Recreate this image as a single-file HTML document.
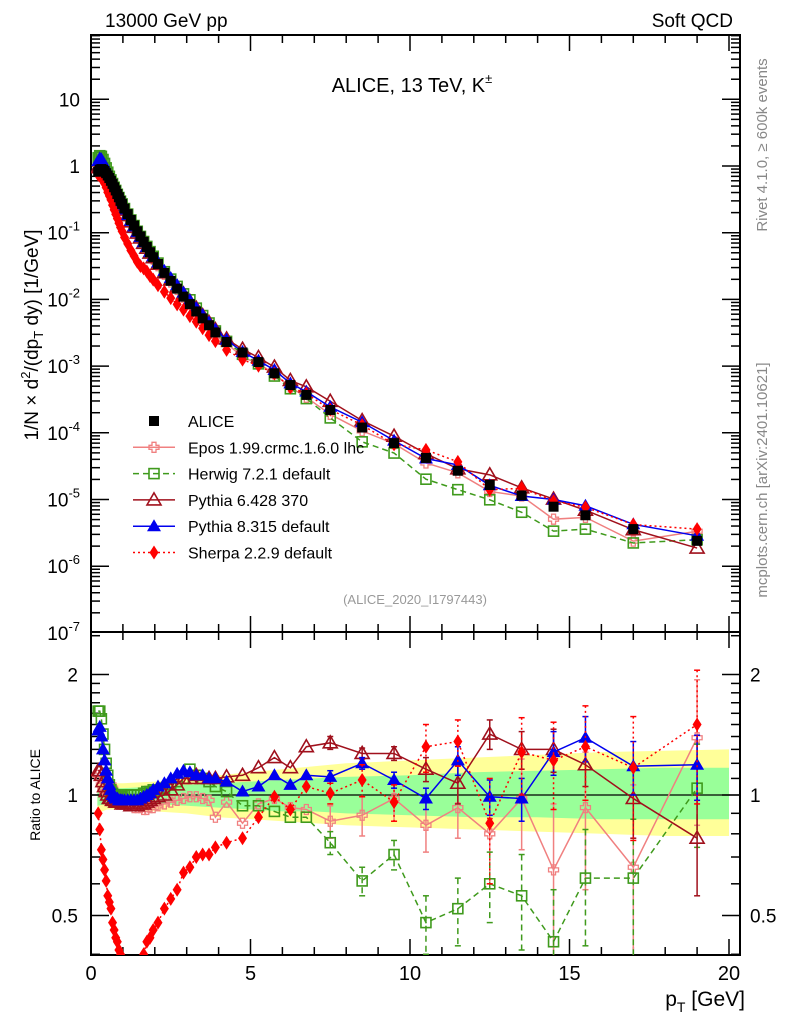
<!DOCTYPE html>
<html><head><meta charset="utf-8"><style>
body{margin:0;background:#fff}
svg{display:block;font-family:"Liberation Sans",sans-serif}
</style></head><body>
<svg id="c" width="786" height="1024" viewBox="0 0 786 1024" xmlns="http://www.w3.org/2000/svg">
<defs>
<clipPath id="cu"><rect x="91" y="35" width="649" height="597"/></clipPath>
<clipPath id="cl"><rect x="91" y="632" width="649" height="323"/></clipPath>
</defs>
<rect x="91" y="35" width="649" height="597" fill="none" stroke="#000" stroke-width="2"/>
<rect x="91" y="632" width="649" height="323" fill="none" stroke="#000" stroke-width="2"/>
<g id="bands" clip-path="url(#cl)"></g>
<g id="axes"></g>
<g id="upper" clip-path="url(#cu)"></g>
<g id="lower" clip-path="url(#cl)"></g>
<text x="105" y="27" font-size="19">13000 GeV pp</text>
<text x="733" y="27" font-size="19" text-anchor="end">Soft QCD</text>
<text x="412" y="92" font-size="20" text-anchor="middle">ALICE, 13 TeV, K<tspan font-size="13" dy="-9">±</tspan></text>
<text x="415" y="604" font-size="13" fill="#999" text-anchor="middle">(ALICE_2020_I1797443)</text>
<text transform="translate(38,335) rotate(-90)" font-size="19" text-anchor="middle">1/N × d<tspan font-size="13" dy="-8">2</tspan><tspan dy="8">/(dp</tspan><tspan font-size="13" dy="5">T</tspan><tspan dy="-5"> dy) [1/GeV]</tspan></text>
<text transform="translate(40,795) rotate(-90)" font-size="14" text-anchor="middle">Ratio to ALICE</text>
<text transform="translate(767,145) rotate(-90)" font-size="15" fill="#888" text-anchor="middle">Rivet 4.1.0, ≥ 600k events</text>
<text transform="translate(767,480) rotate(-90)" font-size="15" fill="#888" text-anchor="middle">mcplots.cern.ch [arXiv:2401.10621]</text>
<text x="745" y="1006" font-size="21" text-anchor="end">p<tspan font-size="14" dy="6">T</tspan><tspan dy="-6"> [GeV]</tspan></text>
<g id="legend"></g>
</svg>
<script>
const pT=[0.225,0.275,0.325,0.375,0.425,0.475,0.525,0.575,0.625,0.675,0.725,0.775,0.825,0.875,0.925,0.975,
1.05,1.15,1.25,1.35,1.45,1.55,1.65,1.75,1.85,1.95,
2.1,2.3,2.5,2.7,2.9,3.1,3.3,3.5,3.7,3.9,
4.25,4.75,5.25,5.75,6.25,6.75,
7.5,8.5,9.5,10.5,11.5,12.5,13.5,14.5,15.5,17,19];
const alice=[0.82,0.88,0.9,0.88,0.84,0.78,0.72,0.66,0.6,0.54,0.48,0.43,0.38,0.34,0.3,0.27,
0.23,0.19,0.155,0.128,0.105,0.088,0.073,0.061,0.051,0.043,
0.034,0.025,0.019,0.0145,0.011,0.0085,0.0066,0.0052,0.0041,0.0032,
0.0023,0.0016,0.00115,0.00078,0.00052,0.00037,
0.00022,0.00012,7e-5,4.2e-5,2.7e-5,1.65e-5,1.15e-5,7.8e-6,5.8e-6,3.6e-6,2.4e-6];
const rEpos=[1.12,1.1,1.06,1.04,1.02,1.02,1.03,1.05,1.06,1.04,1.02,1.0,0.99,0.98,0.98,0.97,
0.96,0.95,0.94,0.93,0.93,0.93,0.92,0.92,0.93,0.93,
0.94,0.95,0.96,0.97,0.98,0.99,0.99,0.98,0.97,0.88,
0.96,0.85,0.95,0.98,0.93,0.92,
0.86,0.89,0.98,0.84,0.93,0.8,0.98,0.65,0.93,0.66,1.39];
const rHerwig=[1.62,1.62,1.55,1.42,1.3,1.2,1.12,1.06,1.03,1.01,1.0,1.0,0.99,0.99,0.99,1.0,
1.0,1.0,1.0,1.0,1.0,1.0,1.01,1.02,1.02,1.03,
1.03,1.04,1.06,1.08,1.1,1.16,1.12,1.1,1.08,1.05,
1.02,0.94,0.94,0.91,0.88,0.88,
0.76,0.61,0.71,0.48,0.52,0.6,0.56,0.43,0.62,0.62,1.04];
const rPy6=[1.15,1.15,1.12,1.08,1.05,1.02,1.0,0.98,0.98,0.97,0.97,0.96,0.96,0.96,0.96,0.95,
0.95,0.95,0.94,0.94,0.94,0.95,0.95,0.96,0.97,0.98,
0.99,1.0,1.03,1.06,1.1,1.1,1.12,1.1,1.1,1.1,
1.11,1.12,1.17,1.24,1.17,1.32,
1.35,1.27,1.27,1.16,1.07,1.42,1.3,1.3,1.19,0.98,0.78];
const rPy8=[1.45,1.48,1.4,1.3,1.22,1.15,1.1,1.06,1.03,1.0,0.99,0.98,0.98,0.97,0.97,0.97,
0.97,0.97,0.97,0.97,0.97,0.98,0.99,1.0,1.01,1.03,
1.05,1.07,1.1,1.13,1.15,1.14,1.12,1.12,1.1,1.1,
1.08,1.02,1.05,1.12,1.06,1.12,
1.11,1.2,1.09,0.98,1.22,0.99,0.98,1.28,1.39,1.18,1.19];
const rSherpa=[0.9,0.82,0.73,0.69,0.65,0.61,0.56,0.54,0.52,0.48,0.46,0.44,0.43,0.41,0.4,0.39,
0.37,0.36,0.35,0.35,0.35,0.36,0.4,0.43,0.44,0.46,
0.48,0.52,0.55,0.58,0.64,0.66,0.7,0.71,0.71,0.74,
0.76,0.78,0.88,0.99,0.92,1.05,
1.01,1.09,0.96,1.32,1.36,0.85,1.28,1.22,1.32,1.17,1.5];
// high-pT errors (last 11 points)
const eEpos=[0.08,0.1,0.12,0.12,0.15,0.2,0.25,0.3,0.35,0.4,0.55];
const eHerwig=[0.05,0.05,0.06,0.08,0.1,0.12,0.15,0.15,0.2,0.25,0.3];
const ePy6=[0.05,0.04,0.05,0.08,0.12,0.12,0.14,0.16,0.14,0.2,0.22];
const ePy8=[0.04,0.04,0.05,0.06,0.1,0.1,0.12,0.16,0.18,0.18,0.22];
const eSherpa=[0.06,0.1,0.1,0.18,0.18,0.25,0.28,0.3,0.35,0.4,0.55];
// ALICE uncertainty bands
const bandX=[0.2,0.5,1,2,3,4,5,6,7,8,10,12,14,16,18,20];
const yellowUp=[1.08,1.07,1.07,1.08,1.1,1.12,1.14,1.16,1.18,1.2,1.22,1.24,1.26,1.28,1.29,1.3];
const yellowDn=[0.9,0.92,0.92,0.91,0.9,0.88,0.87,0.86,0.85,0.84,0.83,0.82,0.81,0.8,0.79,0.79];
const greenUp=[1.05,1.04,1.04,1.05,1.06,1.07,1.08,1.09,1.1,1.11,1.12,1.14,1.15,1.16,1.17,1.17];
const greenDn=[0.94,0.95,0.95,0.95,0.94,0.93,0.92,0.91,0.91,0.9,0.89,0.88,0.88,0.87,0.87,0.87];
const xTicks=[0,5,10,15,20];
const NS='http://www.w3.org/2000/svg';
const X=v=>91+v*31.9;
const YU=v=>166-66.7*Math.log10(v);
const YR=r=>795-120.5*Math.log2(r);
function el(t,a,p){const e=document.createElementNS(NS,t);for(const k in a)e.setAttribute(k,a[k]);p.appendChild(e);return e;}
const axes=document.getElementById('axes'),up=document.getElementById('upper'),lo=document.getElementById('lower'),bands=document.getElementById('bands'),leg=document.getElementById('legend');
// bands
function bandPath(u,d){let s='';bandX.forEach((x,i)=>{s+=(i?'L':'M')+X(x)+','+YR(u[i]);});for(let i=bandX.length-1;i>=0;i--)s+='L'+X(bandX[i])+','+YR(d[i]);return s+'Z';}
let b=el('path',{d:bandPath(yellowUp,yellowDn),fill:'#ffff99'},bands);


b=el('path',{d:bandPath(greenUp,greenDn),fill:'#99ff99'},bands);


el('line',{x1:91,x2:740,y1:YR(1),y2:YR(1),stroke:'#000','stroke-width':1.2},bands);
// x ticks
for(let v=0;v<=20.4;v+=1){const maj=(v%5===0);const L=maj?16:8;
 [[632,-1],[955,-1],[35,1],[632,1]].forEach(([y,d])=>el('line',{x1:X(v),x2:X(v),y1:y,y2:y+d*L,stroke:'#000','stroke-width':1.5},axes));}
xTicks.forEach(v=>{const t=el('text',{x:X(v),y:980,'font-size':20,'text-anchor':'middle'},axes);t.textContent=v;

});
// upper y ticks
for(let e=-7;e<=1;e++){for(let m=1;m<10;m++){const v=m*Math.pow(10,e);const y=YU(v);if(y<35||y>632)continue;const L=m===1?18:9;
 el('line',{x1:91,x2:91+L,y1:y,y2:y,stroke:'#000','stroke-width':1.5},axes);el('line',{x1:740,x2:740-L,y1:y,y2:y,stroke:'#000','stroke-width':1.5},axes);}
 const t=el('text',{x:80,y:YU(Math.pow(10,e))+7,'font-size':19,'text-anchor':'end'},axes);
 
 
 if(e===0)t.textContent='1';else if(e===1)t.textContent='10';else{t.textContent='10';const s=el('tspan',{'font-size':13,dy:-9},t);s.textContent=String(e);}}
// ratio y ticks
[0.4,0.5,0.6,0.7,0.8,0.9,1,1.1,1.2,1.3,1.4,1.5,1.6,1.7,1.8,1.9,2,2.5].forEach(r=>{const y=YR(r);if(y<632||y>955)return;const maj=(r===0.5||r===1||r===2);const L=maj?18:9;
 el('line',{x1:91,x2:91+L,y1:y,y2:y,stroke:'#000','stroke-width':1.5},axes);el('line',{x1:740,x2:740-L,y1:y,y2:y,stroke:'#000','stroke-width':1.5},axes);});
[[2,'2'],[1,'1'],[0.5,'0.5']].forEach(([r,s])=>{let t=el('text',{x:78,y:YR(r)+7,'font-size':19,'text-anchor':'end'},axes);t.textContent=s;


t=el('text',{x:750,y:YR(r)+7,'font-size':19},axes);t.textContent=s;

});
// markers
function marker(kind,x,y,col,g){const s=5;
 if(kind==='sq')return el('rect',{x:x-s,y:y-s,width:2*s,height:2*s,fill:'#000'},g);
 if(kind==='osq')return el('rect',{x:x-5,y:y-5,width:10,height:10,fill:'none',stroke:col,'stroke-width':1.6},g);
 if(kind==='otri')return el('path',{d:`M${x},${y-7}L${x+7},${y+5}L${x-7},${y+5}Z`,fill:'none',stroke:col,'stroke-width':1.6},g);
 if(kind==='tri')return el('path',{d:`M${x},${y-7}L${x+7},${y+5}L${x-7},${y+5}Z`,fill:col},g);
 if(kind==='dia')return el('path',{d:`M${x},${y-7}L${x+4.5},${y}L${x},${y+7}L${x-4.5},${y}Z`,fill:col},g);
 if(kind==='cross')return el('path',{d:`M${x-2},${y-5}h4v3h3v4h-3v3h-4v-3h-3v-4h3Z`,fill:'none',stroke:col,'stroke-width':1.3},g);}
const series=[
 {name:'epos',label:'Epos 1.99.crmc.1.6.0 lhc',r:rEpos,e:eEpos,col:'#f08080',dash:'',m:'cross'},
 {name:'herwig',label:'Herwig 7.2.1 default',r:rHerwig,e:eHerwig,col:'#3f9a1c',dash:'6,4',m:'osq'},
 {name:'pythia6',label:'Pythia 6.428 370',r:rPy6,e:ePy6,col:'#a0101c',dash:'',m:'otri'},
 {name:'pythia8',label:'Pythia 8.315 default',r:rPy8,e:ePy8,col:'#0000ee',dash:'',m:'tri'},
 {name:'sherpa',label:'Sherpa 2.2.9 default',r:rSherpa,e:eSherpa,col:'#ff0000',dash:'2,3',m:'dia'}];
const off=pT.length-11;
series.forEach(s=>{
 const gu=el('g',{},up);
 
 
 const gl=el('g',{},lo);
 
 
 el('polyline',{points:pT.map((x,i)=>X(x)+','+YU(alice[i]*s.r[i])).join(' '),fill:'none',stroke:s.col,'stroke-width':1.5,'stroke-dasharray':s.dash},gu);
 el('polyline',{points:pT.map((x,i)=>X(x)+','+YR(s.r[i])).join(' '),fill:'none',stroke:s.col,'stroke-width':1.5,'stroke-dasharray':s.dash},gl);
 s.e.forEach((e,k)=>{const i=off+k;const x=X(pT[i]);const y1=YR(s.r[i]+e),y2=YR(Math.max(s.r[i]-e,0.05));
  el('line',{x1:x,x2:x,y1:y1,y2:y2,stroke:s.col,'stroke-width':1.5,'stroke-dasharray':s.dash},gl);
  el('line',{x1:x-3,x2:x+3,y1:y1,y2:y1,stroke:s.col,'stroke-width':1.5},gl);
  el('line',{x1:x-3,x2:x+3,y1:y2,y2:y2,stroke:s.col,'stroke-width':1.5},gl);});
 pT.forEach((x,i)=>{marker(s.m,X(x),YU(alice[i]*s.r[i]),s.col,gu);marker(s.m,X(x),YR(s.r[i]),s.col,gl);});
});
const ga=el('g',{},up);


pT.forEach((x,i)=>marker('sq',X(x),YU(alice[i]),'#000',ga));
// legend
const entries=[{label:'ALICE',m:'sq',col:'#000',dash:null,name:'alice'}].concat(series);
entries.forEach((s,i)=>{const y=421+i*26.3;const g=el('g',{},leg);
 
 
 if(s.dash!==null)el('line',{x1:133,x2:175,y1:y,y2:y,stroke:s.col,'stroke-width':1.5,'stroke-dasharray':s.dash},g);
 marker(s.m,154,y,s.col,g);
 const t=el('text',{x:188,y:y+6,'font-size':16},g);t.textContent=s.label;});
</script>
</body></html>
